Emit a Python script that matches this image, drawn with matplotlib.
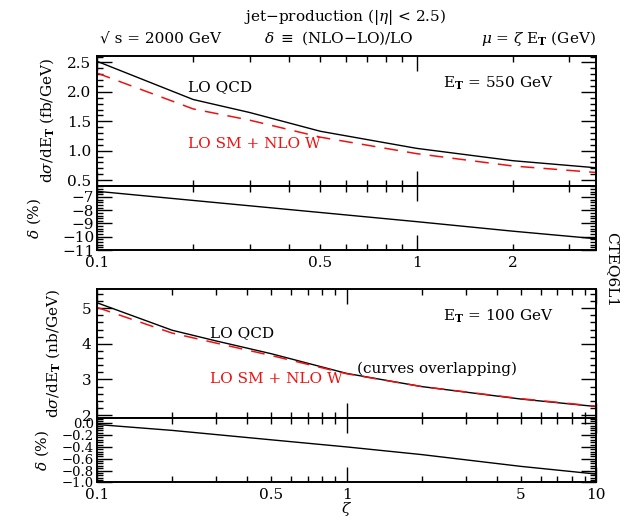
import numpy as np
import matplotlib
matplotlib.use("Agg")
import matplotlib.pyplot as plt
from matplotlib.ticker import MultipleLocator

plt.rcParams['font.family'] = ['DejaVu Serif']
plt.rcParams['mathtext.fontset'] = 'dejavuserif'

# E_T = 550 GeV panel
zeta_550 = [0.1, 0.2, 0.3, 0.5, 1.0, 2.0, 3.64]
lo_qcd_550 = [2.52, 1.87, 1.65, 1.33, 1.04, 0.83, 0.71]
lo_sm_nlo_w_550 = [2.32, 1.71, 1.52, 1.23, 0.95, 0.74, 0.63]
zeta_d550 = [0.1, 0.2, 0.5, 1.0, 2.0, 3.64]
delta_550 = [-6.57, -7.26, -8.17, -8.86, -9.58, -10.15]

# E_T = 100 GeV panel
zeta_100 = [0.1, 0.2, 0.3, 0.5, 1.0, 2.0, 5.0, 10.0]
lo_qcd_100 = [5.15, 4.38, 4.08, 3.72, 3.17, 2.80, 2.45, 2.24]
lo_sm_nlo_w_100 = [5.02, 4.30, 4.02, 3.67, 3.16, 2.80, 2.46, 2.25]
zeta_d100 = [0.1, 0.2, 0.5, 1.0, 2.0, 5.0, 10.0]
delta_100 = [-0.02, -0.12, -0.28, -0.40, -0.53, -0.73, -0.86]

FS = 11
W, H = 628, 521


def box(l, t, r, b):
    return [l / W, 1 - b / H, (r - l) / W, (b - t) / H]


def style_x(ax, xmax, labels):
    ax.set_xscale('log')
    ax.set_xlim(0.1, xmax)
    major = [v for v in [0.1, 1, 10] if v <= xmax]
    minor = [m * d for d in [0.1, 1] for m in range(2, 10) if m * d < xmax]
    ax.set_xticks(major)
    ax.set_xticks(minor, minor=True)
    ax.set_xticklabels([labels.get(v, '') for v in major])
    ax.set_xticklabels([labels.get(round(v, 3), '') for v in minor], minor=True)


def style_common(ax):
    ax.tick_params(which='both', direction='in', top=True, right=True,
                   labelsize=FS, width=1.0, pad=4)
    ax.tick_params(which='major', length=11)
    ax.tick_params(which='minor', length=4.5)
    for s in ax.spines.values():
        s.set_linewidth(1.4)


fig = plt.figure(figsize=(6.28, 5.21), dpi=100)

ax1 = fig.add_axes(box(97, 56, 596, 186))
ax2 = fig.add_axes(box(97, 186, 596, 250))
ax3 = fig.add_axes(box(97, 288.5, 596, 418.3))
ax4 = fig.add_axes(box(97, 418.3, 596, 482.3))

dash = dict(color='#ee1111', lw=1.1, dashes=(9, 6))
solid = dict(color='black', lw=1.0)

# top panel
ax1.plot(zeta_550, lo_qcd_550, **solid)
ax1.plot(zeta_550, lo_sm_nlo_w_550, **dash)
ax1.set_ylim(0.4, 2.61)
ax1.yaxis.set_major_locator(MultipleLocator(0.5))
ax1.yaxis.set_minor_locator(MultipleLocator(0.1))
ax1.yaxis.set_major_formatter(plt.FuncFormatter(lambda v, p: f'{v:.1f}'))
style_x(ax1, 3.64, {})
style_common(ax1)
ax1.set_ylabel(r'd$\sigma$/dE$_\mathbf{T}$ (fb/GeV)', fontsize=FS, labelpad=8)
ax1.text(0.193, 2.08, 'LO QCD', fontsize=FS, va='center')
ax1.text(0.193, 1.12, 'LO SM + NLO W', fontsize=FS, va='center', color='#ee1111')
ax1.text(1.21, 2.15, r'E$_\mathbf{T}$ = 550 GeV', fontsize=FS, va='center')

ax2.plot(zeta_d550, delta_550, **solid)
ax2.set_ylim(-11, -6.17)
ax2.yaxis.set_major_locator(MultipleLocator(1))
ax2.yaxis.set_minor_locator(MultipleLocator(0.2))
style_x(ax2, 3.64, {0.1: '0.1', 0.5: '0.5', 1: '1', 2: '2'})
style_common(ax2)
ax2.tick_params(axis='y', pad=2)
ax2.set_ylabel(r'$\delta$ (%)', fontsize=FS, labelpad=14)

# bottom panel
ax3.plot(zeta_100, lo_qcd_100, **solid)
ax3.plot(zeta_100, lo_sm_nlo_w_100, **dash)
ax3.set_ylim(1.91, 5.55)
ax3.yaxis.set_major_locator(MultipleLocator(1))
ax3.yaxis.set_minor_locator(MultipleLocator(0.2))
style_x(ax3, 10, {})
style_common(ax3)
ax3.set_ylabel(r'd$\sigma$/dE$_\mathbf{T}$ (nb/GeV)', fontsize=FS, labelpad=14)
ax3.text(0.285, 4.30, 'LO QCD', fontsize=FS, va='center')
ax3.text(0.285, 3.00, 'LO SM + NLO W', fontsize=FS, va='center', color='#ee1111')
ax3.text(2.44, 4.78, r'E$_\mathbf{T}$ = 100 GeV', fontsize=FS, va='center')
ax3.text(1.1, 3.31, '(curves overlapping)', fontsize=FS, va='center')

ax4.plot(zeta_d100, delta_100, **solid)
ax4.set_ylim(-1.0, 0.085)
ax4.yaxis.set_major_locator(MultipleLocator(0.2))
ax4.yaxis.set_minor_locator(MultipleLocator(0.04))
ax4.yaxis.set_major_formatter(plt.FuncFormatter(lambda v, p: f'{v:.1f}'.replace('-', '\u2212')))
style_x(ax4, 10, {0.1: '0.1', 0.5: '0.5', 1: '1', 5: '5', 10: '10'})
style_common(ax4)
ax4.tick_params(axis='y', pad=2, labelsize=9.5)
ax4.set_ylabel(r'$\delta$ (%)', fontsize=FS, labelpad=8)
ax4.set_xlabel(r'$\zeta$', fontsize=FS, labelpad=-1)

# header texts
fig.text(345 / W, 1 - 17 / H, r'jet$-$production (|$\eta$| < 2.5)', ha='center', va='center', fontsize=FS)
fig.text(100 / W, 1 - 38 / H, '\u221a s = 2000 GeV', ha='left', va='center', fontsize=FS)
fig.text(339 / W, 1 - 38 / H, r'$\delta$ $\equiv$ (NLO$-$LO)/LO', ha='center', va='center', fontsize=FS)
fig.text(596 / W, 1 - 38 / H, r'$\mu$ = $\zeta$ E$_\mathbf{T}$ (GeV)', ha='right', va='center', fontsize=FS)
fig.text(612 / W, 1 - 270 / H, 'CTEQ6L1', rotation=270, ha='center', va='center', fontsize=FS)

fig.savefig('out.png', dpi=100)
